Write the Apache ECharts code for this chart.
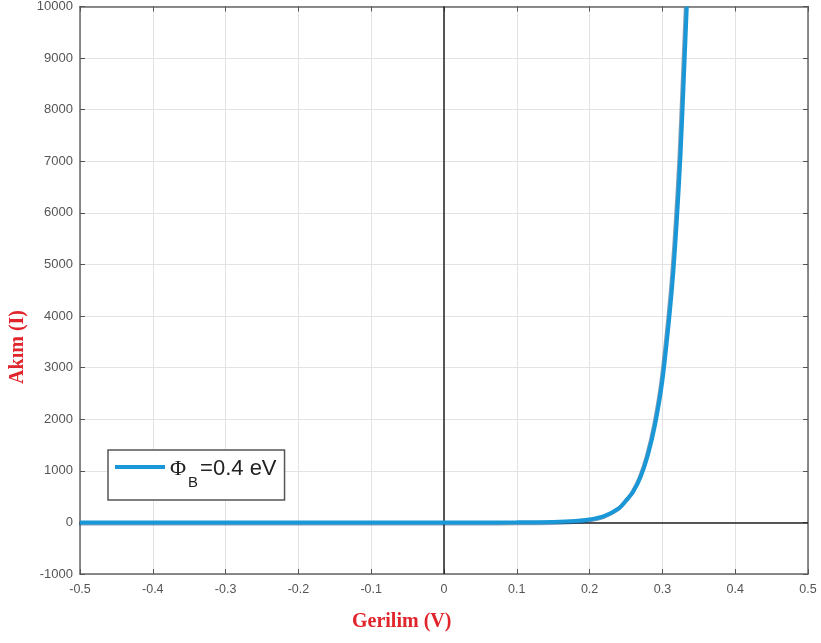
<!DOCTYPE html>
<html><head><meta charset="utf-8">
<script src="https://cdn.jsdelivr.net/npm/echarts@6/dist/echarts.min.js"></script>
<style>html,body{margin:0;padding:0;background:#fff}#c{width:821px;height:643px}</style>
</head><body><div id="c"></div>
<script>
// Voltage (V) and current (I)
const voltage = [-0.5, -0.4, -0.3, -0.2, -0.1, 0.0, 0.05, 0.1, 0.15, 0.18, 0.2, 0.22, 0.24, 0.25, 0.26, 0.27, 0.28, 0.29, 0.30, 0.31, 0.315, 0.32, 0.325, 0.33, 0.3335];
const current = [0, 0, 0, 0, 0, 0, 0, 1, 8, 25, 55, 120, 270, 420, 600, 880, 1300, 1900, 2750, 4050, 4850, 5900, 7150, 8800, 10000];
const xTicks = [-0.5, -0.4, -0.3, -0.2, -0.1, 0, 0.1, 0.2, 0.3, 0.4, 0.5];
const yTicks = [-1000, 0, 1000, 2000, 3000, 4000, 5000, 6000, 7000, 8000, 9000, 10000];
const seriesName = 'ΦB=0.4 eV';

const chart = echarts.init(document.getElementById('c'));
const axisCommon = {
  axisLine: {show: true, onZero: false, lineStyle: {color: '#666', width: 1.5}},
  axisTick: {show: true, inside: true, length: 5, lineStyle: {color: '#555'}},
};
chart.setOption({
  animation: false,
  backgroundColor: '#fff',
  grid: {left: 80, right: 13, top: 5, bottom: 69, show: false},
  xAxis: [{
    type: 'value', min: -0.5, max: 0.5, interval: 0.1,
    ...axisCommon,
    axisLabel: {color: '#555', fontSize: 12.5, fontFamily: 'Arial', margin: 9,
      formatter: v => { const r = Math.round(v*10)/10; return r === 0 ? '0' : String(r); }},
    splitLine: {show: true, lineStyle: {color: '#e3e3e3', width: 1}}
  }, {
    type: 'value', position: 'top', min: -0.5, max: 0.5, interval: 0.1,
    ...axisCommon, axisLabel: {show: false}, splitLine: {show: false}
  }],
  yAxis: [{
    type: 'value', min: -1000, max: 10000, interval: 1000,
    ...axisCommon,
    axisLabel: {color: '#555', fontSize: 13, fontFamily: 'Arial', margin: 7,
      formatter: v => String(Math.round(v))},
    splitLine: {show: true, lineStyle: {color: '#e3e3e3', width: 1}}
  }, {
    type: 'value', position: 'right', min: -1000, max: 10000, interval: 1000,
    ...axisCommon, axisLabel: {show: false}, splitLine: {show: false}
  }],
  legend: {
    left: 108, top: 450,
    data: [{name: seriesName, icon: 'rect'}],
    itemWidth: 50, itemHeight: 4, itemGap: 0,
    padding: [8, 8, 10, 7],
    borderColor: '#555', borderWidth: 1.5, borderRadius: 0,
    backgroundColor: '#fff',
    formatter: () => '{p|Φ}{s|B}{a|=0.4 eV}',
    textStyle: {
      rich: {
        p: {fontSize: 22, fontFamily: '"Liberation Serif", serif', color: '#222', lineHeight: 26, verticalAlign: 'bottom', padding: [0, 1, 0, 0]},
        a: {fontSize: 22, fontFamily: 'Arial', color: '#222', verticalAlign: 'bottom', lineHeight: 26},
        s: {fontSize: 15, fontFamily: 'Arial', color: '#222', verticalAlign: 'bottom', lineHeight: 15, padding: [0, 2, -10, 1]}
      }
    }
  },
  graphic: [
    {type: 'text', left: 8, top: 310, rotation: Math.PI/2,
     style: {text: 'Akım (I)', font: 'bold 20px "Liberation Serif", "Times New Roman", serif', fill: '#e0262c'}},
    {type: 'text', left: 352, top: 612,
     style: {text: 'Gerilim (V)', font: 'bold 20px "Liberation Serif", "Times New Roman", serif', fill: '#e0262c'}}
  ],
  series: [{
    type: 'line', name: '__ref', data: [], z: 1, silent: true,
    markLine: {
      symbol: 'none', silent: true, label: {show: false},
      lineStyle: {color: '#222', type: 'solid', width: 1.5},
      data: [{yAxis: 0}, {xAxis: 0}]
    }
  }, {
    type: 'line', name: seriesName, z: 5,
    data: voltage.map((v, i) => [v, current[i]]),
    smooth: 0.3, showSymbol: false, symbol: 'none',
    lineStyle: {color: '#1a97d6', width: 4, shadowColor: 'rgba(0,60,110,0.5)', shadowBlur: 0, shadowOffsetX: -1, shadowOffsetY: 1},
    itemStyle: {color: '#1a97d6'}
  }]
});
</script></body></html>
